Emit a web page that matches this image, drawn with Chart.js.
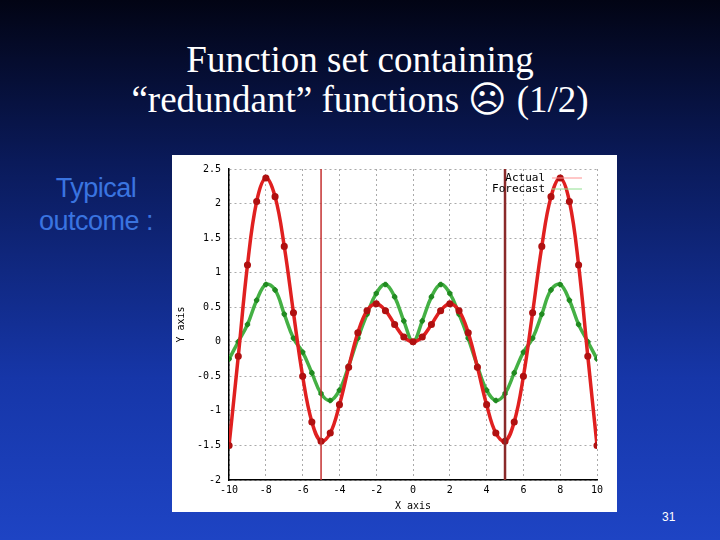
<!DOCTYPE html>
<html>
<head>
<meta charset="utf-8">
<script src="https://cdn.jsdelivr.net/npm/chart.js@4"></script>
<style>
  body { margin: 0; width: 720px; height: 540px; overflow: hidden;
    background: linear-gradient(180deg, #020414 0%, #0a1a5a 30%, #1636a8 70%, #1e44c4 100%);
    position: relative; font-family: "Liberation Serif", serif; }
  #title { position: absolute; left: 0; top: 40px; width: 720px; text-align: center;
    color: #fff; font-size: 37px; line-height: 40px; }
  #side { position: absolute; left: 26px; top: 172px; width: 140px; text-align: center;
    color: #3a74e0; font-family: "Liberation Sans", Arial, sans-serif; font-size: 27px; line-height: 33px; letter-spacing: -0.5px; }
  #num { position: absolute; left: 662px; top: 510px; color: #fff;
    font-family: "Liberation Sans", sans-serif; font-size: 12px; }
  #wrap { position: absolute; left: 172px; top: 155px; width: 445px; height: 357px; background: #fff; }
</style>
</head>
<body>
<div id="title">Function set containing<br>“redundant” functions &#9785; (1/2)</div>
<div id="side">Typical<br>outcome :</div>
<div id="wrap"><canvas id="c" width="445" height="357"></canvas></div>
<div id="num">31</div>
<script>
// -------------------- DATA --------------------
const xs = [-10,-9.5,-9,-8.5,-8,-7.5,-7,-6.5,-6,-5.5,-5,-4.5,-4,-3.5,-3,-2.5,-2,-1.5,-1,-0.5,
  0,0.5,1,1.5,2,2.5,3,3.5,4,4.5,5,5.5,6,6.5,7,7.5,8,8.5,9,9.5,10];
const actual = [-1.5,-0.21,1.11,2.03,2.37,2.10,1.38,0.42,-0.5,-1.16,-1.44,-1.32,-0.91,-0.37,0.13,0.45,0.55,0.45,0.25,0.07,
  0,0.07,0.25,0.45,0.55,0.45,0.13,-0.37,-0.91,-1.32,-1.44,-1.16,-0.5,0.42,1.38,2.10,2.37,2.03,1.11,-0.21,-1.5];
const forecast = [-0.25,0.0,0.25,0.6,0.83,0.75,0.4,0.05,-0.15,-0.45,-0.75,-0.85,-0.7,-0.35,0.05,0.4,0.7,0.83,0.65,0.3,
  0,0.3,0.65,0.83,0.7,0.4,0.05,-0.35,-0.7,-0.85,-0.75,-0.45,-0.15,0.05,0.4,0.75,0.83,0.6,0.25,0.0,-0.25];
const xTicks = [-10,-8,-6,-4,-2,0,2,4,6,8,10];
const yTicks = [-2,-1.5,-1,-0.5,0,0.5,1,1.5,2,2.5];
const markers = [-5, 5];

const mono = { family: "DejaVu Sans Mono", size: 10 };

// -------------------- PLUGINS --------------------
const extras = {
  id: "extras",
  afterDatasetsDraw(chart) {
    const { ctx, chartArea, scales } = chart;
    ctx.save();
    markers.forEach((m, i) => {
      const px = scales.x.getPixelForValue(m);
      ctx.strokeStyle = i === 0 ? "#c43030" : "#8a2a2a";
      ctx.lineWidth = i === 0 ? 1.5 : 2.5;
      ctx.beginPath(); ctx.moveTo(px, chartArea.top); ctx.lineTo(px, chartArea.bottom); ctx.stroke();
    });
    // legend
    ctx.font = "11px DejaVu Sans Mono";
    ctx.fillStyle = "#000";
    ctx.textAlign = "right"; ctx.textBaseline = "middle";
    ctx.fillText("Actual", chartArea.right - 52, chartArea.top + 9);
    ctx.fillText("Forecast", chartArea.right - 52, chartArea.top + 20);
    ctx.lineWidth = 1;
    ctx.strokeStyle = "#ff9090";
    ctx.beginPath(); ctx.moveTo(chartArea.right - 45, chartArea.top + 9); ctx.lineTo(chartArea.right - 15, chartArea.top + 9); ctx.stroke();
    ctx.strokeStyle = "#90e090";
    ctx.beginPath(); ctx.moveTo(chartArea.right - 45, chartArea.top + 20); ctx.lineTo(chartArea.right - 15, chartArea.top + 20); ctx.stroke();
    ctx.restore();
  }
};

// -------------------- CHART --------------------
new Chart(document.getElementById("c").getContext("2d"), {
  type: "scatter",
  data: {
    datasets: [
      { label: "Actual", data: xs.map((x, i) => ({ x, y: actual[i] })), showLine: true,
        borderColor: "#e02020", borderWidth: 3.5, tension: 0.4, pointStyle: "circle",
        pointRadius: 1.8, pointBorderColor: "#b01010", pointBackgroundColor: "#ff8080", order: 1 },
      { label: "Forecast", data: xs.map((x, i) => ({ x, y: forecast[i] })), showLine: true,
        borderColor: "#44b044", borderWidth: 3.5, tension: 0.4, pointStyle: "crossRot",
        pointRadius: 2.5, pointBorderColor: "#208a20", order: 2 }
    ]
  },
  options: {
    responsive: false, animation: false,
    layout: { padding: { top: 14, right: 20, left: 1, bottom: 0 } },
    plugins: { legend: { display: false }, tooltip: { enabled: false } },
    scales: {
      x: { type: "linear", min: -10, max: 10,
        afterBuildTicks: a => { a.ticks = xTicks.map(v => ({ value: v })); },
        ticks: { color: "#000", font: mono, maxRotation: 0, callback: v => String(v), padding: 4 },
        grid: { color: "#aaa", drawTicks: false },
        border: { color: "#000", width: 1.5, dash: [2, 3] },
        title: { display: true, text: "X axis", color: "#000", font: mono, padding: 0 } },
      y: { min: -2, max: 2.5,
        afterBuildTicks: a => { a.ticks = yTicks.map(v => ({ value: v })); },
        ticks: { color: "#000", font: mono, padding: 8, callback: v => String(v) },
        grid: { color: "#aaa", drawTicks: false },
        border: { color: "#000", width: 1.5, dash: [2, 3] },
        title: { display: true, text: "Y axis", color: "#000", font: mono, padding: 2 } }
    }
  },
  plugins: [extras]
});
</script>
</body>
</html>
